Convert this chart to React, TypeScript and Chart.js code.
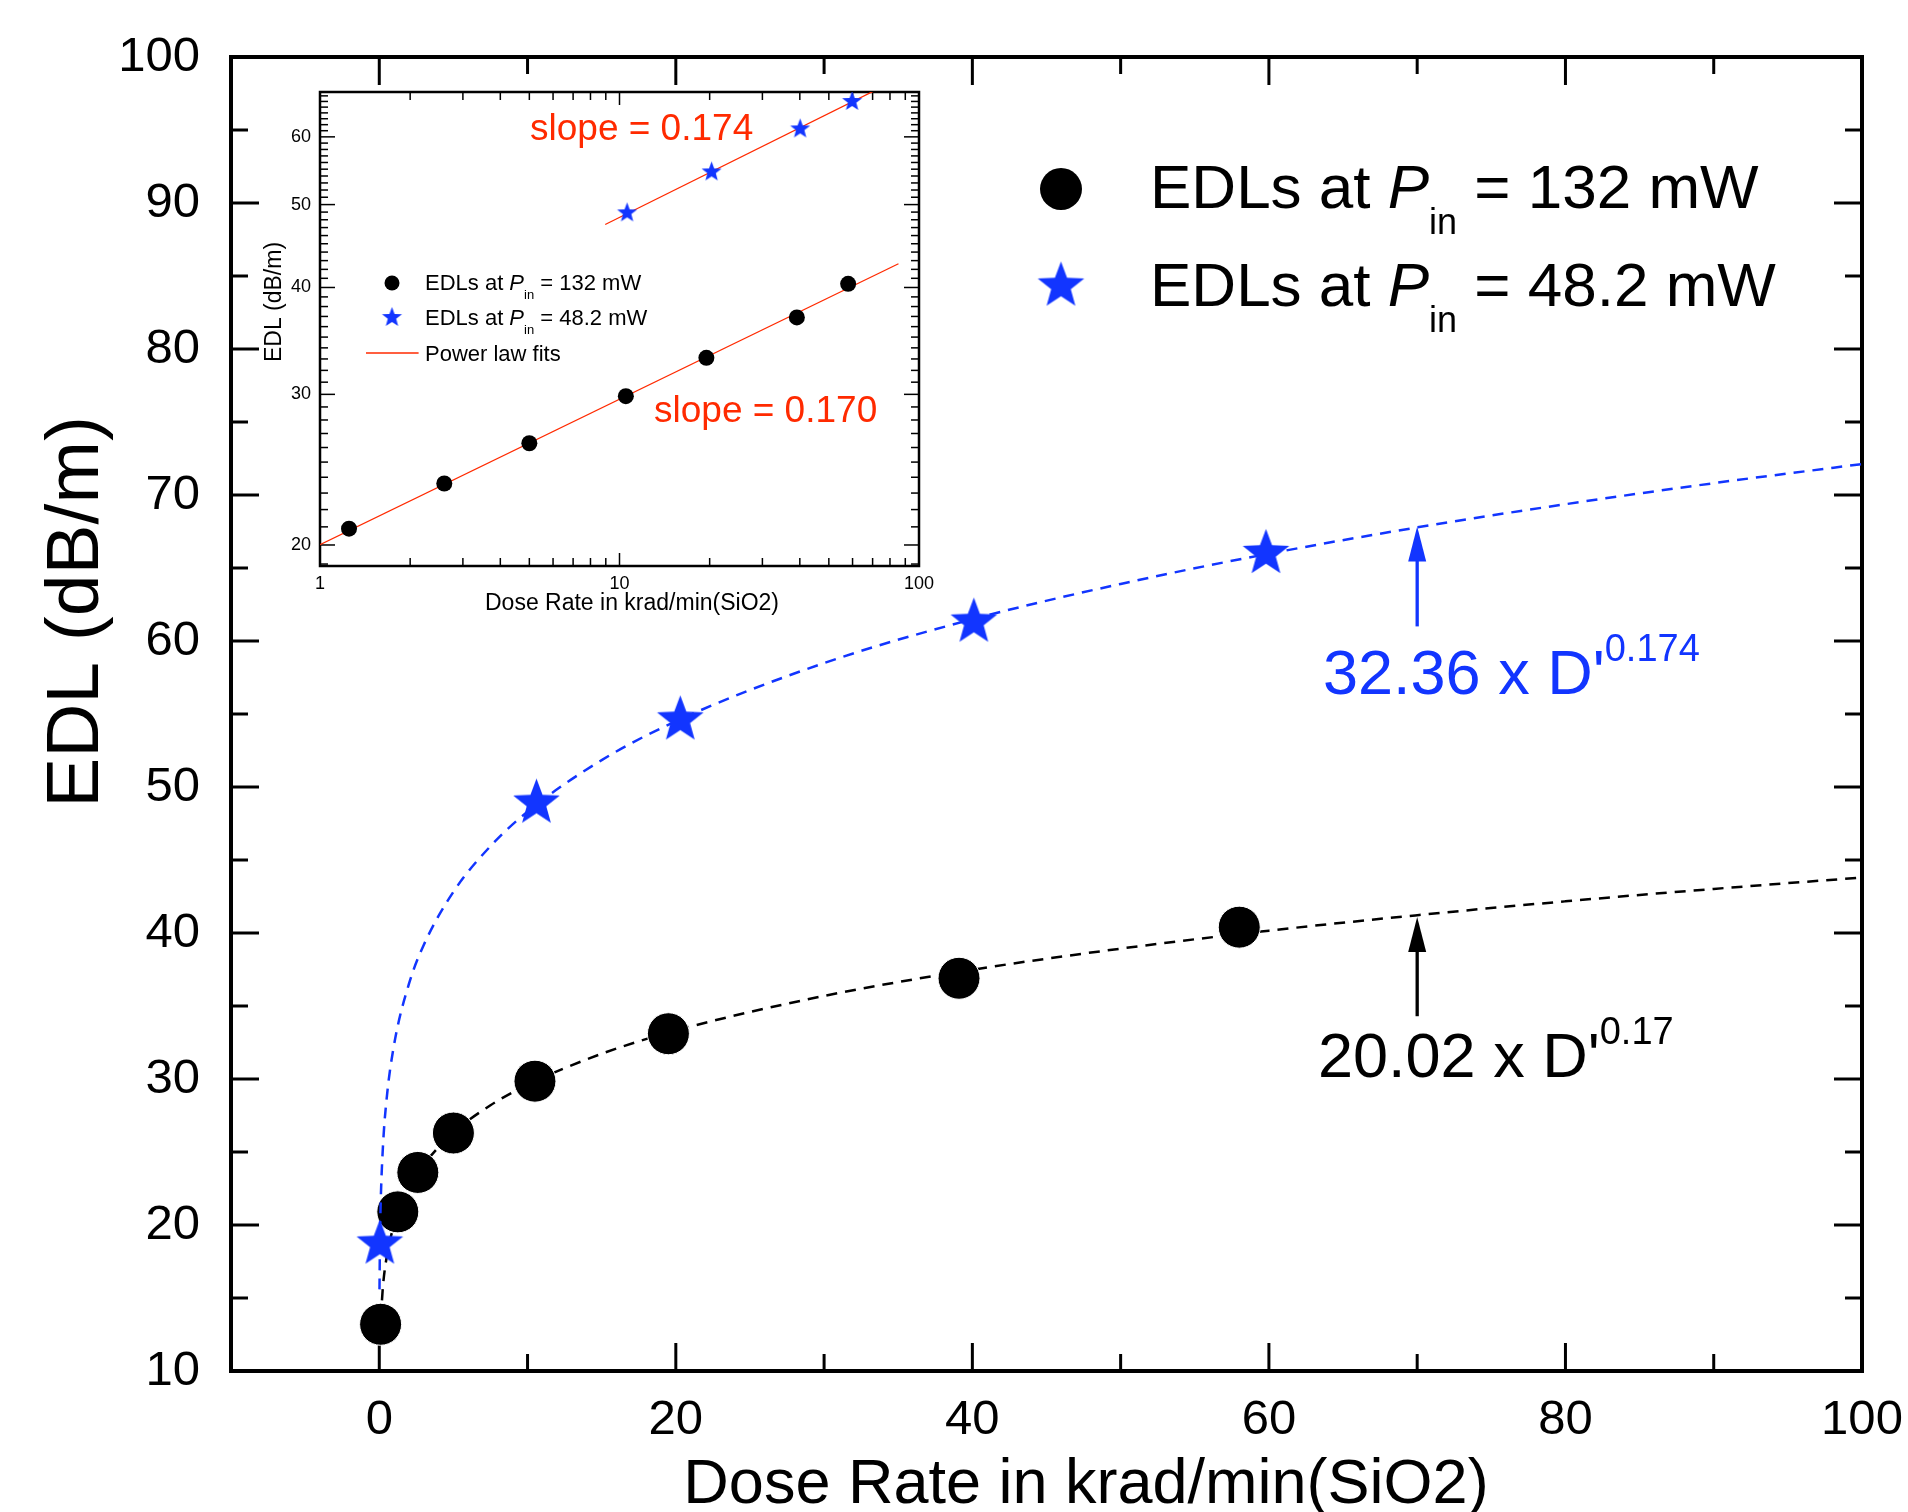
import React, { useEffect, useRef } from 'react';
import { Chart, registerables } from 'chart.js';

Chart.register(...registerables);

const FONT = 'Arial, "Liberation Sans", Helvetica, sans-serif';
const BLUE = '#1235ff';
const RED = '#ff2a00';

const EDL132_X = [0.09, 1.25, 2.6, 5.0, 10.5, 19.5, 39.1, 58.0];
const EDL132_Y = [13.2, 20.9, 23.6, 26.3, 29.85, 33.1, 36.9, 40.4];
const EDL48_X = [0.04, 10.6, 20.3, 40.1, 59.8];
const EDL48_Y = [18.7, 48.9, 54.6, 61.3, 66.0];

// ---- power-law fit curves, sampled (20.02 x D'^0.17 and 32.36 x D'^0.174) ----
const FIT132_X = [0.1, 0.25, 0.5, 1, 2, 3, 5, 7.5, 10, 15, 20, 30, 40, 50, 60, 70, 80, 90, 100];
const FIT132_Y = [13.54, 15.82, 17.8, 20.02, 22.52, 24.13, 26.32, 28.2, 29.61, 31.73, 33.32, 35.69, 37.48, 38.93, 40.16, 41.22, 42.17, 43.02, 43.8];
const FIT48_X = [0.015, 0.05, 0.1, 0.25, 0.5, 1, 2, 3, 5, 7.5, 10, 15, 20, 30, 40, 50, 60, 70, 80, 90, 100];
const FIT48_Y = [15.59, 19.21, 21.68, 25.42, 28.68, 32.36, 36.51, 39.18, 42.82, 45.95, 48.31, 51.84, 54.5, 58.49, 61.49, 63.91, 65.98, 67.78, 69.37, 70.81, 72.12];

// inset (log-log) fit lines
const INSET_FIT132_X = [1, 85.4];
const INSET_FIT132_Y = [20.02, 42.64];
const INSET_FIT48_X = [8.96, 72];
const INSET_FIT48_Y = [47.39, 68.1];

// arrows (x, yFrom, yTo)
const ARROW48 = [70, 61.0, 67.85];
const ARROW132 = [70, 34.3, 41.1];

// ---- ticks ----
const X_TICKS = [0, 20, 40, 60, 80, 100];
const X_MINOR = [10, 30, 50, 70, 90];
const Y_TICKS = [10, 20, 30, 40, 50, 60, 70, 80, 90, 100];
const Y_MINOR = [15, 25, 35, 45, 55, 65, 75, 85, 95];
const IX_TICKS = [1, 10, 100];
const IX_MINOR = [2, 3, 4, 5, 6, 7, 8, 9, 20, 30, 40, 50, 60, 70, 80, 90];
const IY_TICKS = [20, 30, 40, 50, 60];
const IY_MINOR = [19, 21, 22, 23, 24, 25, 26, 27, 28, 29, 31, 32, 33, 34, 35, 36, 37, 38, 39, 41, 42, 43, 44, 45, 46, 47, 48, 49, 51, 52, 53, 54, 55, 56, 57, 58, 59, 61, 62, 63, 64, 65, 66, 67];

const pts = (xs: number[], ys: number[]) => xs.map((x, i) => ({ x, y: ys[i] }));

function makeStar(R: number, color: string) {
  const c = document.createElement('canvas');
  const s = Math.ceil(2 * R + 4);
  c.width = s;
  c.height = s;
  const ctx = c.getContext('2d')!;
  ctx.fillStyle = color;
  ctx.beginPath();
  for (let i = 0; i < 10; i++) {
    const r = i % 2 === 0 ? R : R * 0.42;
    const a = -Math.PI / 2 + (i * Math.PI) / 5;
    const px = s / 2 + r * Math.cos(a);
    const py = s / 2 + r * Math.sin(a);
    if (i === 0) ctx.moveTo(px, py);
    else ctx.lineTo(px, py);
  }
  ctx.closePath();
  ctx.fill();
  return c;
}

type Part = { text: string; size: number; italic?: boolean; dy?: number };

function drawRich(ctx: CanvasRenderingContext2D, x: number, y: number, parts: Part[], color: string) {
  let cx = x;
  ctx.fillStyle = color;
  ctx.textAlign = 'left';
  ctx.textBaseline = 'alphabetic';
  for (const p of parts) {
    ctx.font = `${p.italic ? 'italic ' : ''}${p.size}px ${FONT}`;
    ctx.fillText(p.text, cx, y + (p.dy || 0));
    cx += ctx.measureText(p.text).width;
  }
}

function seg(ctx: CanvasRenderingContext2D, x1: number, y1: number, x2: number, y2: number) {
  ctx.beginPath();
  ctx.moveTo(x1, y1);
  ctx.lineTo(x2, y2);
  ctx.stroke();
}

function drawArrow(ctx: CanvasRenderingContext2D, x: number, yFrom: number, yTo: number, color: string) {
  ctx.save();
  ctx.strokeStyle = color;
  ctx.fillStyle = color;
  ctx.lineWidth = 3.3;
  const head = 35;
  seg(ctx, x, yFrom, x, yTo + head - 2);
  ctx.beginPath();
  ctx.moveTo(x, yTo);
  ctx.lineTo(x - 9, yTo + head);
  ctx.lineTo(x + 9, yTo + head);
  ctx.closePath();
  ctx.fill();
  ctx.restore();
}

const zeroPad = (s: any) => {
  s.paddingLeft = 0;
  s.paddingRight = 0;
  s.paddingTop = 0;
  s.paddingBottom = 0;
};

export default function App() {
  const mainRef = useRef<HTMLCanvasElement>(null);
  const insetRef = useRef<HTMLCanvasElement>(null);

  useEffect(() => {
    document.body.style.margin = '0';
    Chart.defaults.font.family = FONT;
    Chart.defaults.color = '#000';

    const bigStar = makeStar(24.5, BLUE);
    const smallStar = makeStar(10.5, BLUE);

    const mainDecor = {
      id: 'mainDecor',
      beforeDatasetsDraw(chart: any) {
        const { ctx, chartArea: a, scales } = chart;
        const x = scales.x;
        const y = scales.y;
        ctx.save();
        ctx.strokeStyle = '#000';
        ctx.lineWidth = 3;
        for (const v of X_TICKS) {
          const p = x.getPixelForValue(v);
          seg(ctx, p, a.bottom, p, a.bottom - 28);
          seg(ctx, p, a.top, p, a.top + 28);
        }
        for (const v of X_MINOR) {
          const p = x.getPixelForValue(v);
          seg(ctx, p, a.bottom, p, a.bottom - 17);
          seg(ctx, p, a.top, p, a.top + 17);
        }
        for (const v of Y_TICKS) {
          const p = y.getPixelForValue(v);
          seg(ctx, a.left, p, a.left + 28, p);
          seg(ctx, a.right, p, a.right - 28, p);
        }
        for (const v of Y_MINOR) {
          const p = y.getPixelForValue(v);
          seg(ctx, a.left, p, a.left + 17, p);
          seg(ctx, a.right, p, a.right - 17, p);
        }
        ctx.lineWidth = 4;
        ctx.strokeRect(a.left, a.top, a.right - a.left, a.bottom - a.top);
        ctx.restore();
      },
      afterDraw(chart: any) {
        const { ctx, scales } = chart;
        const x = scales.x;
        const y = scales.y;
        ctx.save();
        // axis titles
        ctx.fillStyle = '#000';
        ctx.font = `63px ${FONT}`;
        ctx.textAlign = 'center';
        ctx.textBaseline = 'alphabetic';
        ctx.fillText('Dose Rate in krad/min(SiO2)', 1086, 1503);
        ctx.save();
        ctx.translate(98, 612);
        ctx.rotate(-Math.PI / 2);
        ctx.font = `75px ${FONT}`;
        ctx.fillText('EDL (dB/m)', 0, 0);
        ctx.restore();

        // legend
        ctx.fillStyle = '#000';
        ctx.beginPath();
        ctx.arc(1061, 189, 21, 0, Math.PI * 2);
        ctx.fill();
        ctx.drawImage(bigStar, 1061 - bigStar.width / 2, 286 - bigStar.height / 2);
        drawRich(ctx, 1150, 208, [
          { text: 'EDLs at ', size: 62 },
          { text: 'P', size: 62, italic: true },
          { text: 'in', size: 36, dy: 26 },
          { text: ' = 132 mW', size: 62 },
        ], '#000');
        drawRich(ctx, 1150, 306, [
          { text: 'EDLs at ', size: 62 },
          { text: 'P', size: 62, italic: true },
          { text: 'in', size: 36, dy: 26 },
          { text: ' = 48.2 mW', size: 62 },
        ], '#000');

        // arrows
        drawArrow(ctx, x.getPixelForValue(ARROW48[0]), y.getPixelForValue(ARROW48[1]), y.getPixelForValue(ARROW48[2]), BLUE);
        drawArrow(ctx, x.getPixelForValue(ARROW132[0]), y.getPixelForValue(ARROW132[1]), y.getPixelForValue(ARROW132[2]), '#000');

        // fit annotations
        drawRich(ctx, 1323, 694, [
          { text: "32.36 x D'", size: 63 },
          { text: '0.174', size: 38, dy: -33 },
        ], BLUE);
        drawRich(ctx, 1318, 1077, [
          { text: "20.02 x D'", size: 63 },
          { text: '0.17', size: 38, dy: -33 },
        ], '#000');
        ctx.restore();
      },
    };

    const main = new Chart(mainRef.current!, {
      type: 'scatter',
      data: {
        datasets: [
          {
            label: 'EDLs at Pin = 48.2 mW',
            data: pts(EDL48_X, EDL48_Y),
            pointStyle: bigStar as any,
            pointRadius: 24,
            order: 1,
          },
          {
            label: 'fit 48.2',
            data: pts(FIT48_X, FIT48_Y),
            showLine: true,
            pointRadius: 0,
            borderColor: BLUE,
            borderWidth: 2.5,
            borderDash: [11, 8],
            cubicInterpolationMode: 'monotone',
            order: 2,
          },
          {
            label: 'EDLs at Pin = 132 mW',
            data: pts(EDL132_X, EDL132_Y),
            pointStyle: 'circle',
            pointRadius: 21,
            backgroundColor: '#000',
            borderColor: '#ffffff',
            borderWidth: 1,
            order: 3,
          },
          {
            label: 'fit 132',
            data: pts(FIT132_X, FIT132_Y),
            showLine: true,
            pointRadius: 0,
            borderColor: '#000',
            borderWidth: 2.5,
            borderDash: [11, 8],
            cubicInterpolationMode: 'monotone',
            order: 4,
          },
        ] as any,
      },
      options: {
        responsive: false,
        animation: false,
        events: [],
        layout: { padding: { left: 0, right: 46, top: 57, bottom: 0 } },
        plugins: { legend: { display: false }, tooltip: { enabled: false } },
        scales: {
          x: {
            type: 'linear',
            min: -10,
            max: 100,
            grid: { display: false, drawTicks: false },
            border: { display: false },
            afterBuildTicks: (s: any) => {
              s.ticks = X_TICKS.map((v) => ({ value: v }));
            },
            afterFit: (s: any) => {
              s.height = 141;
              zeroPad(s);
            },
            ticks: { font: { size: 49, family: FONT }, color: '#000', padding: 20, maxRotation: 0, autoSkip: false },
          },
          y: {
            type: 'linear',
            min: 10,
            max: 100,
            grid: { display: false, drawTicks: false },
            border: { display: false },
            afterBuildTicks: (s: any) => {
              s.ticks = Y_TICKS.map((v) => ({ value: v }));
            },
            afterFit: (s: any) => {
              s.width = 231;
              zeroPad(s);
            },
            ticks: { font: { size: 49, family: FONT }, color: '#000', padding: 31, autoSkip: false },
          },
        },
      } as any,
      plugins: [mainDecor],
    });

    const insetDecor = {
      id: 'insetDecor',
      beforeDatasetsDraw(chart: any) {
        const { ctx, chartArea: a, scales } = chart;
        const x = scales.x;
        const y = scales.y;
        ctx.save();
        ctx.strokeStyle = '#000';
        ctx.lineWidth = 1.5;
        for (const v of IX_TICKS) {
          const p = x.getPixelForValue(v);
          seg(ctx, p, a.bottom, p, a.bottom - 13);
          seg(ctx, p, a.top, p, a.top + 13);
        }
        for (const v of IX_MINOR) {
          const p = x.getPixelForValue(v);
          seg(ctx, p, a.bottom, p, a.bottom - 8);
          seg(ctx, p, a.top, p, a.top + 8);
        }
        for (const v of IY_TICKS) {
          const p = y.getPixelForValue(v);
          seg(ctx, a.left, p, a.left + 15, p);
          seg(ctx, a.right, p, a.right - 15, p);
        }
        for (const v of IY_MINOR) {
          const p = y.getPixelForValue(v);
          seg(ctx, a.left, p, a.left + 8, p);
          seg(ctx, a.right, p, a.right - 8, p);
        }
        ctx.lineWidth = 2.5;
        ctx.strokeRect(a.left, a.top, a.right - a.left, a.bottom - a.top);
        ctx.restore();
      },
      afterDraw(chart: any) {
        const { ctx } = chart;
        ctx.save();
        ctx.fillStyle = '#000';
        ctx.font = `23px ${FONT}`;
        ctx.textAlign = 'left';
        ctx.textBaseline = 'alphabetic';
        ctx.fillText('Dose Rate in krad/min(SiO2)', 235, 530);
        ctx.save();
        ctx.translate(31, 222);
        ctx.rotate(-Math.PI / 2);
        ctx.textAlign = 'center';
        ctx.fillText('EDL (dB/m)', 0, 0);
        ctx.restore();

        // legend
        ctx.fillStyle = '#000';
        ctx.beginPath();
        ctx.arc(142, 203, 7.5, 0, Math.PI * 2);
        ctx.fill();
        ctx.drawImage(smallStar, 142 - smallStar.width / 2, 237.5 - smallStar.height / 2);
        ctx.strokeStyle = RED;
        ctx.lineWidth = 1.3;
        seg(ctx, 116, 273, 168.6, 273);
        drawRich(ctx, 175, 209.6, [
          { text: 'EDLs at ', size: 22 },
          { text: 'P', size: 22, italic: true },
          { text: 'in', size: 13, dy: 9 },
          { text: ' = 132 mW', size: 22 },
        ], '#000');
        drawRich(ctx, 175, 245, [
          { text: 'EDLs at ', size: 22 },
          { text: 'P', size: 22, italic: true },
          { text: 'in', size: 13, dy: 9 },
          { text: ' = 48.2 mW', size: 22 },
        ], '#000');
        drawRich(ctx, 175, 281, [{ text: 'Power law fits', size: 22 }], '#000');

        drawRich(ctx, 280, 59.6, [{ text: 'slope = 0.174', size: 37 }], RED);
        drawRich(ctx, 404, 341.8, [{ text: 'slope = 0.170', size: 37 }], RED);
        ctx.restore();
      },
    };

    const inset = new Chart(insetRef.current!, {
      type: 'scatter',
      data: {
        datasets: [
          {
            label: 'EDLs at Pin = 48.2 mW',
            data: pts(EDL48_X.slice(1), EDL48_Y.slice(1)),
            pointStyle: smallStar as any,
            pointRadius: 10,
            order: 1,
          },
          {
            label: 'EDLs at Pin = 132 mW',
            data: pts(EDL132_X.slice(1), EDL132_Y.slice(1)),
            pointStyle: 'circle',
            pointRadius: 8,
            backgroundColor: '#000',
            borderColor: '#000',
            borderWidth: 0,
            order: 2,
          },
          {
            label: 'fit 48.2',
            data: pts(INSET_FIT48_X, INSET_FIT48_Y),
            showLine: true,
            pointRadius: 0,
            borderColor: RED,
            borderWidth: 1.3,
            order: 3,
          },
          {
            label: 'fit 132',
            data: pts(INSET_FIT132_X, INSET_FIT132_Y),
            showLine: true,
            pointRadius: 0,
            borderColor: RED,
            borderWidth: 1.3,
            order: 4,
          },
        ] as any,
      },
      options: {
        responsive: false,
        animation: false,
        events: [],
        layout: { padding: { left: 0, right: 21, top: 12, bottom: 0 } },
        plugins: { legend: { display: false }, tooltip: { enabled: false } },
        scales: {
          x: {
            type: 'logarithmic',
            min: 1,
            max: 100,
            grid: { display: false, drawTicks: false },
            border: { display: false },
            afterBuildTicks: (s: any) => {
              s.ticks = IX_TICKS.map((v) => ({ value: v }));
            },
            afterFit: (s: any) => {
              s.height = 54;
              zeroPad(s);
            },
            ticks: { font: { size: 18, family: FONT }, color: '#000', padding: 7, maxRotation: 0, autoSkip: false, callback: (v: any) => String(v) },
          },
          y: {
            type: 'logarithmic',
            min: 18.9,
            max: 67.7,
            grid: { display: false, drawTicks: false },
            border: { display: false },
            afterBuildTicks: (s: any) => {
              s.ticks = IY_TICKS.map((v) => ({ value: v }));
            },
            afterFit: (s: any) => {
              s.width = 70;
              zeroPad(s);
            },
            ticks: { font: { size: 18, family: FONT }, color: '#000', padding: 9, autoSkip: false, callback: (v: any) => String(v) },
          },
        },
      } as any,
      plugins: [insetDecor],
    });

    return () => {
      main.destroy();
      inset.destroy();
    };
  }, []);

  return (
    <div style={{ position: 'relative', width: 1908, height: 1512, background: '#fff', overflow: 'hidden' }}>
      <canvas
        ref={mainRef}
        width={1908}
        height={1512}
        style={{ position: 'absolute', left: 0, top: 0, width: 1908, height: 1512, display: 'block' }}
      />
      <canvas
        ref={insetRef}
        width={690}
        height={540}
        style={{ position: 'absolute', left: 250, top: 80, width: 690, height: 540, display: 'block' }}
      />
    </div>
  );
}
